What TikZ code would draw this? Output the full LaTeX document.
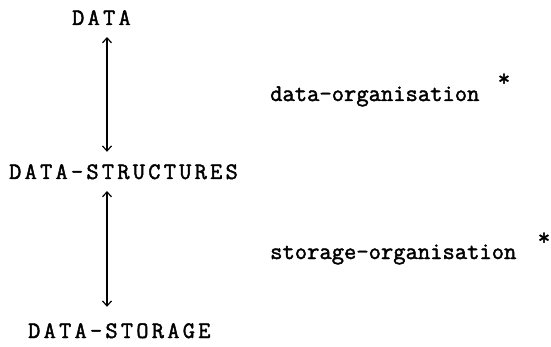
\documentclass[tikz,border=0pt]{standalone}
\usepackage{fontspec}
\usetikzlibrary{arrows.meta}
\newfontfamily\twfont[FakeBold=1.8]{Latin Modern Mono}
\newfontfamily\twcapsfont[FakeBold=1.8,LetterSpace=14]{Latin Modern Mono}
\tikzset{
  caps/.style={inner sep=0pt, anchor=base west, text height=12pt, text depth=0pt,
    font=\twcapsfont\fontsize{23.6}{26}\selectfont},
  lower/.style={inner sep=0pt, anchor=base west,
    font=\twfont\fontsize{23.9}{26}\selectfont},
  star/.style={inner sep=0pt, anchor=base,
    font=\twfont\fontsize{23.9}{26}\selectfont},
  link/.style={line width=1.2pt, {Straight Barb[length=5pt,width=9pt,line width=1.2pt]}-{Straight Barb[length=5pt,width=9pt,line width=1.2pt]}}
}
\begin{document}
\begin{tikzpicture}[x=1pt,y=-1pt]
  \path[use as bounding box] (0,0) rectangle (551,347);
  % the three levels
  \node[caps] (data)    at (72,25)  {DATA};
  \node[caps] (struct)  at (9,179)  {DATA-STRUCTURES};
  \node[caps] (storage) at (28,338) {DATA-STORAGE};
  % the mappings between levels
  \node[lower] (dorg) at (270,101) {data-organisation};
  \node[lower] (sorg) at (270,259) {storage-organisation};
  \node[star] (dstar) at (504,86)  {*};
  \node[star] (sstar) at (544,245) {*};
  % vertical axis of the arrows
  \coordinate (axis) at (107,0);
  \draw[link, shorten <=12pt, shorten >=15pt] (data.base -| axis) -- (struct.north -| axis);
  \draw[link, shorten <=12pt, shorten >=19pt] (struct.base -| axis) -- (storage.north -| axis);
\end{tikzpicture}
\end{document}
